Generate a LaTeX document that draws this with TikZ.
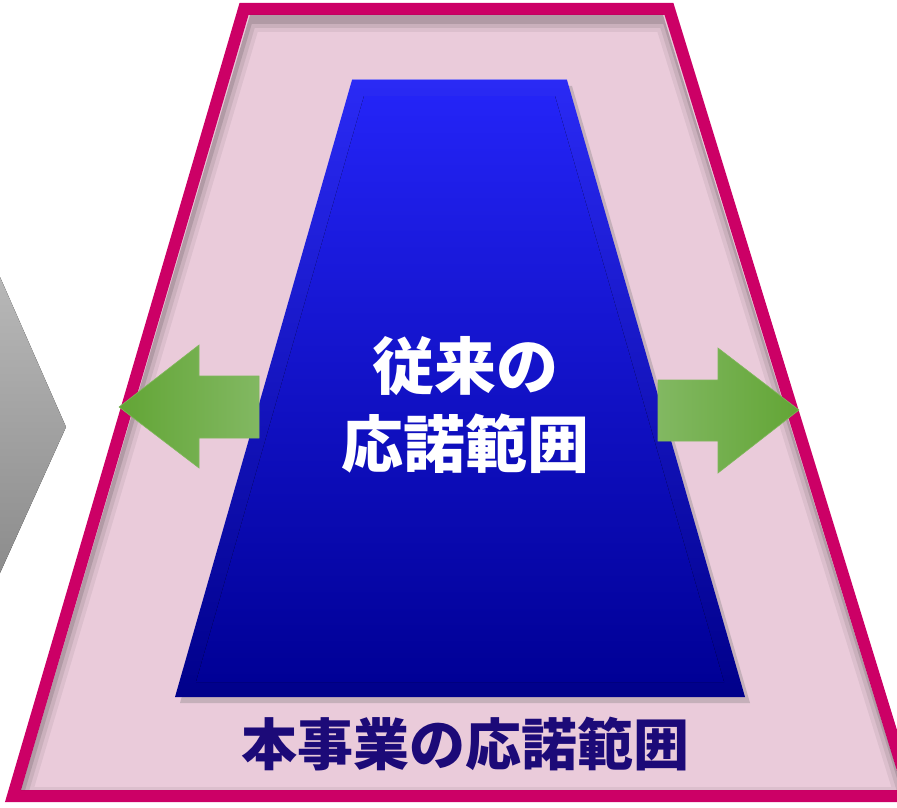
\documentclass[tikz,border=0pt]{standalone}
\usepackage{fontspec}
\newfontfamily\jpfont{Noto Sans CJK JP}
\usetikzlibrary{shadows}
\definecolor{frameMag}{HTML}{CC0066}
\definecolor{framePink}{HTML}{EACBDA}
\definecolor{navyTxt}{HTML}{1C0A78}
\definecolor{blueTop}{HTML}{2A2AF5}
\definecolor{blueBot}{HTML}{00008A}
\definecolor{greenDark}{HTML}{62A535}
\definecolor{greenLight}{HTML}{82B862}

\begin{document}
\begin{tikzpicture}[x=1pt, y=-1pt,
	rangeframe/.style={draw=frameMag, line width=12pt, fill=framePink, line join=miter,
		drop shadow={shadow xshift=3pt, shadow yshift=-5pt, opacity=0.35}},
	scopebox/.style={top color=blueTop, bottom color=blueBot,
		drop shadow={shadow xshift=5pt, shadow yshift=-6pt, opacity=0.35}},
	widenarrow/.style={draw=greenDark!80, line width=0.6pt}]
	\useasboundingbox (0,0) rectangle (897,808);
	\clip (0,0) rectangle (897,808);

	% grey step on the left
	\fill[top color=black!28, bottom color=black!45] (-80,277) -- (0,277) -- (66,427) -- (0,573) -- (-80,573) -- cycle;

	% outer range
	\path[rangeframe] (244,9) -- (669,9) -- (911,796) -- (13,796) -- cycle;
	\begin{scope}
		\clip (250,15) -- (663,15) -- (903,790) -- (21,790) -- cycle;
		\foreach \w/\o in {26/0.06, 18/0.08, 10/0.12}
			\draw[black, line width=\w pt, opacity=\o] (248,19) -- (667,19) -- (909,800) -- (17,800) -- cycle;
	\end{scope}

	% former range (blue)
	\path[scopebox] (352,80) -- (567,80) -- (745,697) -- (175,697) -- cycle;
	\fill[top color=blueTop!85!blue, bottom color=blueBot!90!blue] (364,96) -- (555,96) -- (724,682) -- (196,682) -- cycle;
	\draw[blue!60!white, line width=1pt, opacity=0.6] (352,80) -- (567,80);

	% widening arrows
	\draw[widenarrow, left color=greenDark, right color=greenLight]
		(119,407) -- (199,345) -- (199,376) -- (259,376) -- (259,438) -- (199,438) -- (199,468) -- cycle;
	\draw[widenarrow, left color=greenLight, right color=greenDark]
		(799,410) -- (718,348) -- (718,380) -- (658,380) -- (658,441) -- (718,441) -- (718,473) -- cycle;

	\node[text=white, align=center, font=\jpfont\bfseries\fontsize{62}{78}\selectfont] (former) at (465,405) {従来の\\応諾範囲};
	\node[text=navyTxt, font=\jpfont\bfseries\fontsize{56}{62}\selectfont] (current) at (465,744) {本事業の応諾範囲};
\end{tikzpicture}
\end{document}
